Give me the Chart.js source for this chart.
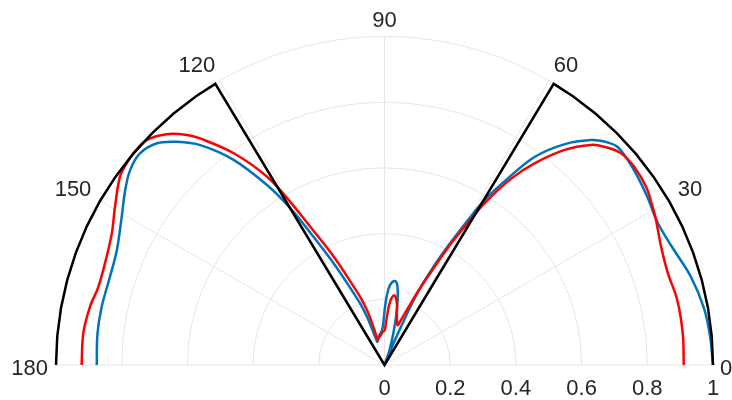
<!DOCTYPE html>
<html>
<head>
<meta charset="utf-8">
<script src="https://cdn.jsdelivr.net/npm/chart.js@4.4.1/dist/chart.umd.min.js"></script>
<style>
  html, body { margin: 0; padding: 0; background: #fff; }
  #chart { display: block; }
</style>
</head>
<body>
<canvas id="chart" width="732" height="400"></canvas>
<script>
// angle ticks (degrees) and radius ticks
const angleTicks = [0, 30, 60, 90, 120, 150, 180];
const radiusTicks = [0, 0.2, 0.4, 0.6, 0.8, 1];
const radiusLabels = ['0', '0.2', '0.4', '0.6', '0.8', '1'];

// ideal (target) pattern, black, sampled so the edges sit at 59 and 121 deg
const targetTheta = [0, 5, 10, 15, 20, 25, 30, 35, 40, 45, 50, 55, 59, 60, 90, 120, 121, 125, 130, 135, 140, 145, 150, 155, 160, 165, 170, 175, 180];
const targetR = [1, 1, 1, 1, 1, 1, 1, 1, 1, 1, 1, 1, 1, 0, 0, 0, 1, 1, 1, 1, 1, 1, 1, 1, 1, 1, 1, 1, 1];

// blue pattern
const blueTheta = [0, 5, 10, 16, 22.5, 27.5, 32.6, 36.7, 40.2, 43.2, 45.5, 47.5, 50.8, 54.2, 56.5, 58.8, 60.1, 61.6, 63.4, 65.4, 66.3, 67.3, 68.5, 71.5, 74.5, 76.5, 78.5, 80.5, 82.5, 85, 87, 89, 90.5, 92, 94.5, 97.2, 100, 103, 105.5, 107.4, 108.6, 109.7, 111.5, 113.2, 116.5, 119.3, 121, 123.1, 126.3, 129.9, 132.9, 135.7, 139.1, 142.5, 145.9, 150.5, 156.7, 162.1, 168.3, 173.7, 180];
const blueR = [1.0, 0.995, 0.988, 0.971, 0.946, 0.938, 0.95, 0.961, 0.969, 0.972, 0.955, 0.93, 0.869, 0.783, 0.685, 0.588, 0.51, 0.427, 0.341, 0.245, 0.17, 0.08, 0.01, 0.05, 0.1, 0.15, 0.2, 0.24, 0.258, 0.252, 0.232, 0.19, 0.15, 0.122, 0.105, 0.097, 0.092, 0.085, 0.078, 0.074, 0.1, 0.15, 0.2, 0.238, 0.346, 0.465, 0.56, 0.655, 0.776, 0.874, 0.929, 0.968, 0.985, 0.976, 0.953, 0.919, 0.887, 0.878, 0.879, 0.879, 0.876];

// red pattern
const redTheta = [0, 6, 12.5, 18, 23.2, 28.1, 30.6, 34.3, 38.5, 41.9, 44.9, 46.9, 50.1, 53.4, 55.8, 58.3, 59.6, 61.3, 63, 65.3, 67.5, 70, 71.5, 73.5, 76, 78.5, 80.5, 82, 84, 85.5, 87, 88.5, 90, 93.8, 98, 102, 105, 106, 107.5, 109.5, 111.4, 115.1, 118.2, 120.1, 121.9, 125.4, 129.1, 130.6, 133.3, 136.5, 139.8, 142, 144.5, 149.5, 154.2, 158.7, 164.7, 168.8, 174, 180];
const redR = [0.911, 0.913, 0.913, 0.907, 0.916, 0.937, 0.948, 0.964, 0.971, 0.967, 0.943, 0.919, 0.855, 0.766, 0.688, 0.58, 0.501, 0.423, 0.336, 0.255, 0.19, 0.145, 0.128, 0.135, 0.155, 0.19, 0.208, 0.215, 0.205, 0.185, 0.15, 0.12, 0.105, 0.1, 0.09, 0.085, 0.079, 0.11, 0.17, 0.218, 0.256, 0.365, 0.478, 0.581, 0.676, 0.792, 0.89, 0.924, 0.967, 0.997, 1.0, 0.997, 0.989, 0.952, 0.922, 0.908, 0.903, 0.914, 0.922, 0.922];

const FONT = '22px "Liberation Sans", Arial, Helvetica, sans-serif';
const TEXT_COLOR = '#262626';
const GRID_COLOR = '#e6e6e6';

function toXY(thetas, radii) {
    return thetas.map((t, i) => ({
        x: radii[i] * Math.cos(t * Math.PI / 180),
        y: radii[i] * Math.sin(t * Math.PI / 180)
    }));
}

// polar grid under the curves, labels on top
const polarGrid = {
    id: 'polarGrid',
    beforeDatasetsDraw(chart) {
        const ctx = chart.ctx;
        const xs = chart.scales.x, ys = chart.scales.y;
        const cx = xs.getPixelForValue(0), cy = ys.getPixelForValue(0);
        const unit = xs.getPixelForValue(1) - cx;
        ctx.save();
        ctx.strokeStyle = GRID_COLOR;
        ctx.lineWidth = 1;
        radiusTicks.forEach(r => {
            if (r === 0) return;
            ctx.beginPath();
            ctx.arc(cx, cy, r * unit, Math.PI, 2 * Math.PI);
            ctx.stroke();
        });
        angleTicks.forEach(a => {
            const rad = a * Math.PI / 180;
            ctx.beginPath();
            ctx.moveTo(cx, cy);
            ctx.lineTo(xs.getPixelForValue(Math.cos(rad)), ys.getPixelForValue(Math.sin(rad)));
            ctx.stroke();
        });
        ctx.restore();
    },
    afterDraw(chart) {
        const ctx = chart.ctx;
        const xs = chart.scales.x, ys = chart.scales.y;
        const cx = xs.getPixelForValue(0), cy = ys.getPixelForValue(0);
        const unit = xs.getPixelForValue(1) - cx;
        ctx.save();
        ctx.font = FONT;
        ctx.fillStyle = TEXT_COLOR;
        ctx.textBaseline = 'alphabetic';

        // radius labels along the bottom
        ctx.textAlign = 'center';
        radiusTicks.forEach((r, i) => {
            ctx.fillText(radiusLabels[i], xs.getPixelForValue(r), cy + 30);
        });

        // angle labels round the rim
        angleTicks.forEach(a => {
            const rad = a * Math.PI / 180;
            const label = String(a);
            if (a === 0) {
                ctx.textAlign = 'left';
                ctx.fillText(label, cx + unit + 7, cy + 10);
            } else if (a === 180) {
                ctx.textAlign = 'right';
                ctx.fillText(label, cx - unit - 8, cy + 10);
            } else {
                const px = cx + (unit + 10) * Math.cos(rad);
                const py = cy - (unit + 10) * Math.sin(rad);
                ctx.textAlign = a < 90 ? 'left' : (a > 90 ? 'right' : 'center');
                ctx.fillText(label, px, py);
            }
        });
        ctx.restore();
    }
};

new Chart(document.getElementById('chart'), {
    type: 'scatter',
    data: {
        datasets: [
            {
                label: 'target',
                data: toXY(targetTheta, targetR),
                showLine: true,
                borderColor: '#000000',
                borderWidth: 2.5,
                pointRadius: 0,
                tension: 0,
                clip: false
            },
            {
                label: 'red',
                data: toXY(redTheta, redR),
                showLine: true,
                borderColor: '#ff0000',
                borderWidth: 2.5,
                pointRadius: 0,
                tension: 0.35,
                clip: false
            },
            {
                label: 'blue',
                data: toXY(blueTheta, blueR),
                showLine: true,
                borderColor: '#0072bd',
                borderWidth: 2.5,
                pointRadius: 0,
                tension: 0.35,
                clip: false
            }
        ]
    },
    options: {
        responsive: false,
        animation: false,
        layout: { padding: { left: 56, right: 19, top: 37, bottom: 35 } },
        plugins: {
            legend: { display: false },
            tooltip: { enabled: false }
        },
        scales: {
            x: { type: 'linear', min: -1, max: 1, display: false },
            y: { type: 'linear', min: 0, max: 1, display: false }
        }
    },
    plugins: [polarGrid]
});
</script>
</body>
</html>
